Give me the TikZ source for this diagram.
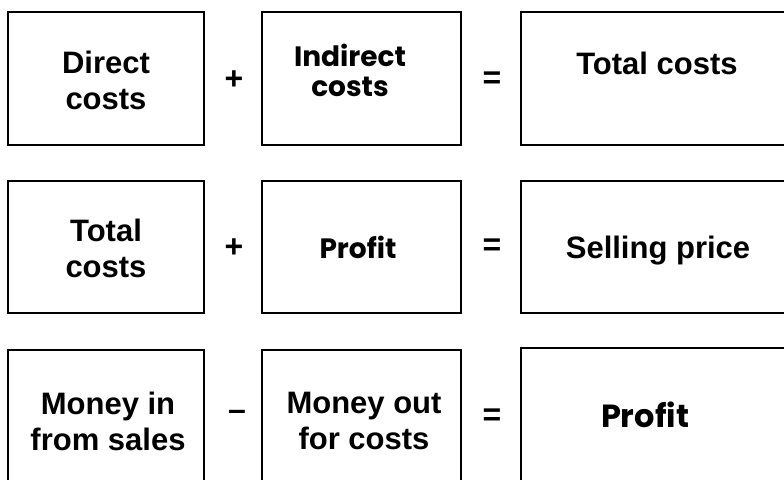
\documentclass[tikz,border=0pt]{standalone}
\usepackage{fontspec}
\setmainfont{Liberation Sans}
\newfontfamily\handfont{Poppins}
\begin{document}
\begin{tikzpicture}[x=1pt,y=-1pt,
  box/.style={draw=black,line width=1.8pt,rectangle,inner sep=0pt},
  printed/.style={font=\fontsize{31}{36}\selectfont\bfseries,align=center,inner sep=0pt},
  hand/.style={font=\handfont\fontsize{28}{30}\selectfont\bfseries,align=center,inner sep=0pt},
  op/.style={font=\fontsize{32}{34}\selectfont\bfseries,inner sep=0pt}]
\useasboundingbox (0,0) rectangle (784,479);
\clip (0,0) rectangle (784,479);
\fill[white] (0,0) rectangle (784,479);
% row 1
\node[box,minimum width=196pt,minimum height=133pt] (b11) at (106,78.5) {};
\node[box,minimum width=199pt,minimum height=133pt] (b12) at (361.5,78.5) {};
\node[box,minimum width=279pt,minimum height=133pt] (b13) at (660.5,78.5) {};
\node[printed] (t11) at (106,80) {Direct\\costs};
\node[hand] (t12) at (350,70) {Indirect\\costs};
\node[printed,anchor=base] (t13) at (657,74) {Total costs};
\node[op] (p1) at (234,80) {+};
\node[op] (e1) at (492,80) {=};
% row 2
\node[box,minimum width=196pt,minimum height=132pt] (b21) at (106,247) {};
\node[box,minimum width=199pt,minimum height=132pt] (b22) at (361.5,247) {};
\node[box,minimum width=279pt,minimum height=132pt] (b23) at (660.5,247) {};
\node[printed] (t21) at (106,248) {Total\\costs};
\node[hand] (t22) at (358,247) {Profit};
\node[printed,anchor=base] (t23) at (658,258) {Selling price};
\node[op] (p2) at (234,248) {+};
\node[op] (e2) at (492,247) {=};
% row 3
\node[box,minimum width=196pt,minimum height=150pt] (b31) at (106,425) {};
\node[box,minimum width=199pt,minimum height=150pt] (b32) at (361.5,425) {};
\node[box,minimum width=279pt,minimum height=154pt] (b33) at (660.5,425) {};
\node[printed] (t31) at (108,421) {Money in\\from sales};
\node[printed] (t32) at (364,421) {Money out\\for costs};
\node[hand,font=\handfont\fontsize{32}{34}\selectfont\bfseries] (t33) at (645,415) {Profit};
\node[op] (m3) at (237,415) {--};
\node[op] (e3) at (492,417) {=};
\end{tikzpicture}
\end{document}
